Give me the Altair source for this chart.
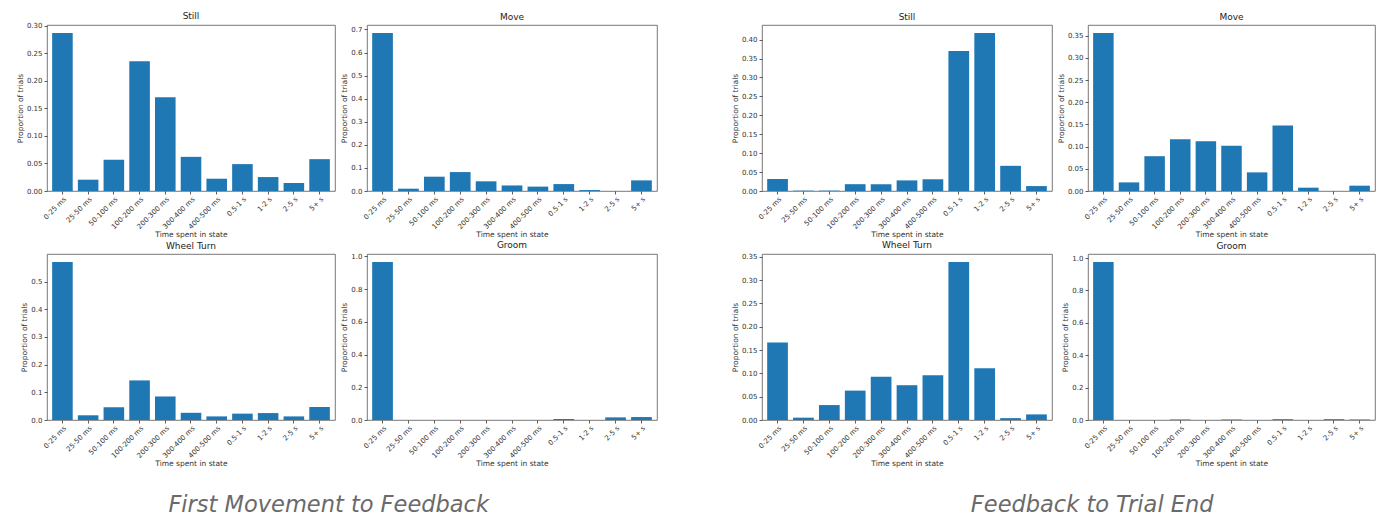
import altair as alt
import pandas as pd

# Duration bins shared by every panel
bins = ["0-25 ms", "25-50 ms", "50-100 ms", "100-200 ms", "200-300 ms",
        "300-400 ms", "400-500 ms", "0.5-1 s", "1-2 s", "2-5 s", "5+ s"]

# First Movement to Feedback
fm_still = [0.287, 0.0205, 0.0566, 0.2355, 0.170, 0.062, 0.0223, 0.0488, 0.0253, 0.0145, 0.0578]
fm_move = [0.685, 0.010, 0.062, 0.082, 0.042, 0.024, 0.019, 0.030, 0.004, 0.0, 0.046]
fm_wheel = [0.571, 0.017, 0.046, 0.143, 0.085, 0.026, 0.013, 0.023, 0.025, 0.013, 0.047]
fm_groom = [0.9656, 0.0, 0.0, 0.0, 0.0, 0.0, 0.0, 0.006, 0.0, 0.016, 0.018]

# Feedback to Trial End
fb_still = [0.032, 0.001, 0.001, 0.018, 0.018, 0.028, 0.031, 0.370, 0.4177, 0.0665, 0.013]
fb_move = [0.3566, 0.0194, 0.0785, 0.117, 0.112, 0.102, 0.042, 0.148, 0.0075, 0.0, 0.012]
fb_wheel = [0.166, 0.005, 0.032, 0.063, 0.093, 0.0746, 0.0959, 0.339, 0.111, 0.004, 0.012]
fb_groom = [0.976, 0.0, 0.0, 0.003, 0.0, 0.003, 0.0, 0.005, 0.0, 0.005, 0.003]

# y tick values per panel
ticks_005_030 = [0.0, 0.05, 0.10, 0.15, 0.20, 0.25, 0.30]
ticks_005_040 = [0.0, 0.05, 0.10, 0.15, 0.20, 0.25, 0.30, 0.35, 0.40]
ticks_005_035 = [0.0, 0.05, 0.10, 0.15, 0.20, 0.25, 0.30, 0.35]
ticks_01_07 = [0.0, 0.1, 0.2, 0.3, 0.4, 0.5, 0.6, 0.7]
ticks_01_05 = [0.0, 0.1, 0.2, 0.3, 0.4, 0.5]
ticks_02_10 = [0.0, 0.2, 0.4, 0.6, 0.8, 1.0]

bar_color = "#1f77b4"
panel_height = 166
label_size = 7


def _panel(title, values, ticks, fmt, width):
    df = pd.DataFrame({"bin": bins, "value": values})
    top = max(values) * 1.05
    # a top tick label poking above the frame pushes the title up; take that back
    poke = max(0.0, label_size / 2 - (top - ticks[-1]) / top * panel_height)
    return alt.Chart(df, title=alt.TitleParams(title, fontWeight=400, offset=3.5 - poke)).mark_bar(
        color=bar_color
    ).encode(
        x=alt.X("bin:N", sort=bins, title="Time spent in state",
                scale=alt.Scale(paddingInner=0.2, paddingOuter=0.2),
                axis=alt.Axis(labelAngle=-45, titlePadding=1, labelPadding=1, titleFontWeight=400)),
        y=alt.Y("value:Q", title="Proportion of trials",
                scale=alt.Scale(domain=[0, top], nice=False, zero=True),
                axis=alt.Axis(values=ticks, format=fmt, titlePadding=2, titleFontWeight=400)),
    ).properties(width=width, height=panel_height)


def _group(caption, panels, dx):
    return alt.concat(*panels, columns=2, spacing={"row": 1, "column": 4}).properties(
        title=alt.TitleParams(caption, orient="bottom", anchor="middle", dx=dx,
                              offset=26, fontSize=22.5, font="DejaVu Sans",
                              fontStyle="italic", fontWeight=400, color="#6a6a6a")
    )


left = _group("First Movement to Feedback", [
    _panel("Still", fm_still, ticks_005_030, ".2f", 288),
    _panel("Move", fm_move, ticks_01_07, ".1f", 290),
    _panel("Wheel Turn", fm_wheel, ticks_01_05, ".1f", 288),
    _panel("Groom", fm_groom, ticks_02_10, ".1f", 290),
], -8)

right = _group("Feedback to Trial End", [
    _panel("Still", fb_still, ticks_005_040, ".2f", 290),
    _panel("Move", fb_move, ticks_005_035, ".2f", 287),
    _panel("Wheel Turn", fb_wheel, ticks_005_035, ".2f", 290),
    _panel("Groom", fb_groom, ticks_02_10, ".1f", 287),
], 39)

chart = alt.hconcat(left, right, spacing=73).properties(
    padding={"left": 8, "top": 3, "right": 0, "bottom": 0},
    background="white"
).configure_view(
    stroke="#555555", strokeWidth=0.8
).configure_axis(
    labelFont="DejaVu Sans", labelFontSize=label_size, labelColor="#333333",
    titleFont="DejaVu Sans", titleFontSize=7.5, titleFontWeight=400, titleColor="#333333",
    tickSize=3, tickColor="#333333", tickWidth=0.8, domain=False, grid=False, labelPadding=2
).configure_title(
    font="DejaVu Sans", fontSize=9, fontWeight=400, color="#222222"
)

chart.save("out.html", embed_options={"renderer": "svg", "actions": False})
